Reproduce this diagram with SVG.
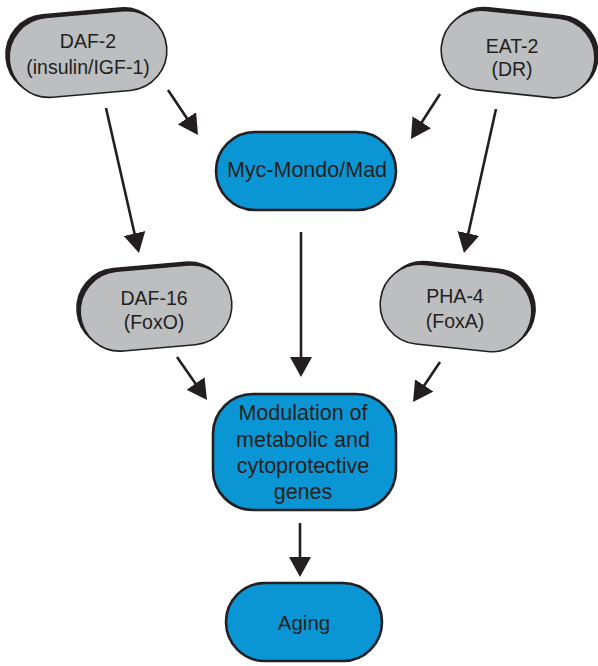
<svg xmlns="http://www.w3.org/2000/svg" width="598" height="666" viewBox="0 0 598 666">
<style>
.shadow{fill:#231f20;stroke:#231f20;stroke-width:1.5}
.gray{fill:#bcbec0;stroke:#231f20;stroke-width:1.6}
.blue{fill:#0a96d4;stroke:#231f20;stroke-width:2.6}
.t{font-family:"Liberation Sans",Arial,sans-serif;fill:#231f20;text-anchor:middle}
.g{font-size:19.5px}
.b{font-size:21.5px}
.edge{stroke:#231f20;stroke-width:2.6;fill:none;marker-end:url(#ah)}
</style>
<defs>
<marker id="ah" markerUnits="userSpaceOnUse" viewBox="0 0 20 22" markerWidth="20" markerHeight="22" refX="12" refY="11" orient="auto">
<path d="M0,0 L20,11 L0,22 Z" fill="#231f20"/>
</marker>
</defs>
<rect width="598" height="666" fill="#fff"/>
<g id="connectors">
<line class="edge" x1="168" y1="90" x2="193.6" y2="128.3"/>
<line class="edge" x1="440" y1="94" x2="415.3" y2="132.3"/>
<line class="edge" x1="106" y1="108" x2="137.2" y2="245.2"/>
<line class="edge" x1="496" y1="109" x2="465.7" y2="245.2"/>
<line class="edge" x1="301" y1="232" x2="301" y2="369"/>
<line class="edge" x1="177" y1="357" x2="202.4" y2="393.4"/>
<line class="edge" x1="440" y1="362" x2="417.5" y2="395.4"/>
<line class="edge" x1="300" y1="523" x2="300" y2="569"/>
</g>
<g id="daf2">
<g transform="translate(88,54) rotate(-5)">
<rect class="shadow" x="-82" y="-43" width="158" height="80" rx="40"/>
<rect class="gray" x="-79" y="-40" width="158" height="80" rx="40"/>
</g>
<text class="t g" x="88" y="48">DAF-2</text>
<text class="t g" x="88" y="74">(insulin/IGF-1)</text>
</g>
<g id="eat2">
<g transform="translate(518,54) rotate(6)">
<rect class="shadow" x="-74" y="-43" width="154" height="80" rx="40"/>
<rect class="gray" x="-77" y="-40" width="154" height="80" rx="40"/>
</g>
<text class="t g" x="512" y="53">EAT-2</text>
<text class="t g" x="512" y="76">(DR)</text>
</g>
<g id="myc">
<rect class="blue" x="216" y="132" width="180" height="78" rx="39"/>
<text class="t b" x="307" y="177">Myc-Mondo/Mad</text>
</g>
<g id="daf16">
<g transform="translate(156,308) rotate(-5)">
<rect class="shadow" x="-79" y="-43" width="152" height="80" rx="40"/>
<rect class="gray" x="-76" y="-40" width="152" height="80" rx="40"/>
</g>
<text class="t g" x="154" y="305">DAF-16</text>
<text class="t g" x="154" y="329">(FoxO)</text>
</g>
<g id="pha4">
<g transform="translate(456,308) rotate(6)">
<rect class="shadow" x="-73" y="-43" width="152" height="80" rx="40"/>
<rect class="gray" x="-76" y="-40" width="152" height="80" rx="40"/>
</g>
<text class="t g" x="455" y="303">PHA-4</text>
<text class="t g" x="455" y="328">(FoxA)</text>
</g>
<g id="modulation">
<rect class="blue" x="213" y="394" width="183" height="116" rx="40"/>
<text class="t b" x="303" y="420">Modulation of</text>
<text class="t b" x="303" y="447">metabolic and</text>
<text class="t b" x="303" y="473">cytoprotective</text>
<text class="t b" x="303" y="499">genes</text>
</g>
<g id="aging">
<rect class="blue" x="226" y="583" width="156" height="78" rx="39"/>
<text class="t" style="font-size:20.5px" x="304" y="630">Aging</text>
</g>
</svg>
